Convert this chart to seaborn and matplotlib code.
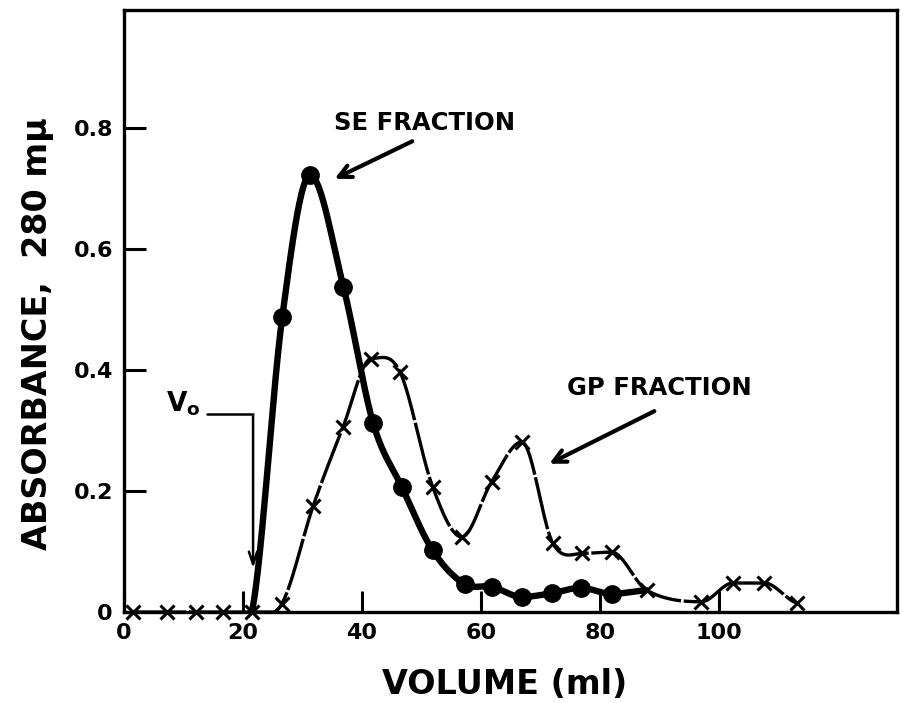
import numpy as np
import pandas as pd
import matplotlib
matplotlib.use('Agg')
import matplotlib.pyplot as plt
import seaborn as sns

# SE fraction (filled circles), last node is only the end of the curve
se_vol = [21.5, 26.6, 31.3, 36.9, 41.9, 46.7, 51.9, 57.3, 61.8, 66.9, 71.9, 76.8, 82.0, 87.9]
se_abs = [0.0, 0.487, 0.722, 0.537, 0.312, 0.207, 0.102, 0.046, 0.042, 0.025, 0.031, 0.040, 0.030, 0.036]
se_marked = [False] + [True] * 12 + [False]

# GP fraction (crosses)
gp_vol = [1.5, 7.2, 12.1, 16.6, 21.5, 26.5, 31.8, 36.8, 41.6, 46.4, 51.9, 56.8, 61.8, 66.9,
          72.1, 77.1, 82.0, 87.9, 97.1, 102.4, 107.7, 113.1]
gp_abs = [0.0, 0.0, 0.0, 0.0, 0.0, 0.013, 0.175, 0.305, 0.419, 0.397, 0.207, 0.124, 0.215, 0.281,
          0.114, 0.097, 0.099, 0.036, 0.017, 0.048, 0.048, 0.015]

x_ticks = [0, 20, 40, 60, 80, 100]
y_ticks = [0, 0.2, 0.4, 0.6, 0.8]
y_ticklabels = ['0', '0.2', '0.4', '0.6', '0.8']


def smooth(x, y, xs):
    # cubic hermite through the read points, flat at local peaks/dips
    x = np.asarray(x, float)
    y = np.asarray(y, float)
    h = np.diff(x)
    d = np.diff(y) / h
    m = np.zeros_like(y)
    m[1:-1] = (y[2:] - y[:-2]) / (x[2:] - x[:-2])
    m[1:-1][d[:-1] * d[1:] <= 0] = 0
    m[0] = d[0] * 0.5
    m[-1] = d[-1] * 0.5
    k = np.clip(np.searchsorted(x, xs, side='right') - 1, 0, len(x) - 2)
    t = (xs - x[k]) / h[k]
    h00 = 2 * t**3 - 3 * t**2 + 1
    h10 = t**3 - 2 * t**2 + t
    h01 = -2 * t**3 + 3 * t**2
    h11 = t**3 - t**2
    return h00 * y[k] + h10 * h[k] * m[k] + h01 * y[k + 1] + h11 * h[k] * m[k + 1]


sns.set_style('ticks', {'text.color': 'black', 'axes.labelcolor': 'black',
                        'xtick.color': 'black', 'ytick.color': 'black',
                        'axes.edgecolor': 'black'})
plt.rcParams['font.family'] = ['DejaVu Sans']
plt.rcParams['font.weight'] = 'bold'

fig = plt.figure(figsize=(9.04, 7.03), dpi=100)
ax = fig.add_axes([0.1372, 0.1294, 0.8551, 0.8564])

se = pd.DataFrame({'vol': se_vol, 'abs': se_abs, 'marked': se_marked})
gp = pd.DataFrame({'vol': gp_vol, 'abs': gp_abs})

xs_se = np.linspace(se_vol[0], se_vol[-1], 600)
se_curve = pd.DataFrame({'vol': xs_se, 'abs': np.clip(smooth(se_vol, se_abs, xs_se), 0, None)})
xs_gp = np.linspace(gp_vol[0], gp_vol[-1], 800)
gp_curve = pd.DataFrame({'vol': xs_gp, 'abs': np.clip(smooth(gp_vol, gp_abs, xs_gp), 0, None)})

sns.lineplot(data=gp_curve, x='vol', y='abs', ax=ax, color='black', lw=2.4,
             sort=False, estimator=None, clip_on=False)
ax.lines[-1].set_dashes((16, 0.8))
sns.lineplot(data=se_curve, x='vol', y='abs', ax=ax, color='black', lw=4.6,
             sort=False, estimator=None, clip_on=False)

ax.plot(gp['vol'], gp['abs'], linestyle='none', marker='x', markersize=10,
        markeredgewidth=2.2, color='black', clip_on=False, zorder=5)
mk = se[se['marked']]
ax.plot(mk['vol'], mk['abs'], linestyle='none', marker='o', markersize=12.5,
        color='black', clip_on=False, zorder=6)

ax.set_xlim(0, 130)
ax.set_ylim(0, 0.995)
ax.set_xticks(x_ticks)
ax.set_xticklabels([str(t) for t in x_ticks], fontsize=16, fontweight='bold')
ax.set_yticks(y_ticks)
ax.set_yticklabels(y_ticklabels, fontsize=16, fontweight='bold')
ax.tick_params(direction='in', length=15, width=2.2, pad=8, colors='black')
ax.tick_params(axis='y', length=16)
for s in ax.spines.values():
    s.set_linewidth(2.4)
    s.set_color('black')
    s.set_visible(True)

ax.set_xlabel('VOLUME (ml)', fontsize=24, fontweight='bold')
ax.set_ylabel('ABSORBANCE,  280 m\u03bc', fontsize=24, fontweight='bold')
ax.xaxis.set_label_coords(0.493, -0.093)
ax.yaxis.set_label_coords(-0.09, 0.463)

# annotations
ax.text(50.6, 0.808, 'SE FRACTION', fontsize=17.5, fontweight='bold', ha='center', va='center')
ax.annotate('', xy=(35.0, 0.714), xytext=(48.9, 0.780),
            arrowprops=dict(arrowstyle='->,head_length=0.9,head_width=0.45', lw=3, color='black'))
ax.text(90.1, 0.370, 'GP FRACTION', fontsize=17.5, fontweight='bold', ha='center', va='center')
ax.annotate('', xy=(71.1, 0.243), xytext=(89.6, 0.334),
            arrowprops=dict(arrowstyle='->,head_length=0.9,head_width=0.45', lw=3, color='black'))

ax.text(10.0, 0.345, r'$\mathbf{V_o}$', fontsize=19, ha='center', va='center')
ax.plot([13.9, 21.7], [0.327, 0.327], color='black', lw=1.8)
ax.annotate('', xy=(21.7, 0.068), xytext=(21.7, 0.328),
            arrowprops=dict(arrowstyle='->,head_length=0.9,head_width=0.3', lw=1.8, color='black'))

fig.savefig('out.png', dpi=100)
